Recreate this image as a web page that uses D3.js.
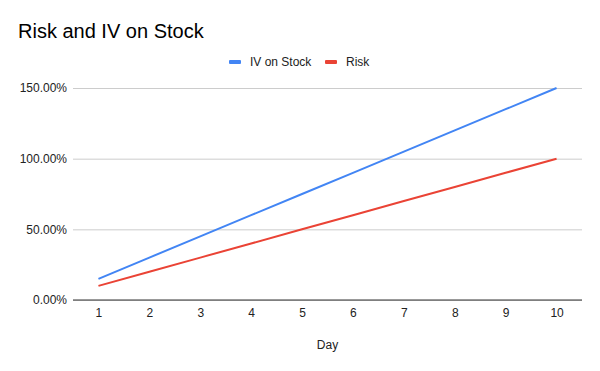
<!DOCTYPE html>
<html>
<head>
<meta charset="utf-8">
<script src="https://cdn.jsdelivr.net/npm/d3@7"></script>
<style>
  body { margin: 0; background: #fff; }
  text { font-family: Arial, "Liberation Sans", sans-serif; }
</style>
</head>
<body>
<svg width="600" height="371"></svg>
<script>
var days = [1, 2, 3, 4, 5, 6, 7, 8, 9, 10];
var ivOnStock = [15, 30, 45, 60, 75, 90, 105, 120, 135, 150];
var risk = [10, 20, 30, 40, 50, 60, 70, 80, 90, 100];
var yTicks = [0, 50, 100, 150];
var seriesNames = ["IV on Stock", "Risk"];
var seriesColors = ["#4285f4", "#ea4335"];

var svg = d3.select("svg");
var plotLeft = 73, plotRight = 582, plotTop = 88, plotBottom = 300;

var x = d3.scalePoint().domain(days).range([plotLeft, plotRight]).padding(0.5);
var y = d3.scaleLinear().domain([0, 150]).range([plotBottom, plotTop]);

// title
svg.append("text")
    .attr("x", 18).attr("y", 38)
    .attr("font-size", 20)
    .attr("fill", "#000")
    .text("Risk and IV on Stock");

// gridlines
svg.append("g")
    .attr("transform", "translate(" + plotLeft + ",0)")
    .call(d3.axisLeft(y).tickValues(yTicks).tickSize(-(plotRight - plotLeft)).tickFormat(function (d) { return d.toFixed(2) + "%"; }))
    .call(function (g) {
        g.select(".domain").remove();
        g.selectAll(".tick line").attr("stroke", "#cccccc");
        g.selectAll(".tick text").attr("x", -6).attr("font-size", 12).attr("fill", "#222")
            .style("font-family", "Arial, 'Liberation Sans', sans-serif");
    });

// x axis
svg.append("g")
    .attr("transform", "translate(0," + plotBottom + ")")
    .call(d3.axisBottom(x).tickSize(0).tickPadding(8))
    .call(function (g) {
        g.select(".domain").attr("stroke", "#333").attr("d", "M" + plotLeft + ",0H" + plotRight);
        g.selectAll(".tick text").attr("font-size", 12).attr("fill", "#222")
            .style("font-family", "Arial, 'Liberation Sans', sans-serif");
    });

svg.append("text")
    .attr("x", (plotLeft + plotRight) / 2).attr("y", 349)
    .attr("text-anchor", "middle")
    .attr("font-size", 12)
    .attr("fill", "#222")
    .text("Day");

// lines
var line = d3.line()
    .x(function (d, i) { return x(days[i]); })
    .y(function (d) { return y(d); });

[ivOnStock, risk].forEach(function (s, k) {
    svg.append("path")
        .datum(s)
        .attr("fill", "none")
        .attr("stroke", seriesColors[k])
        .attr("stroke-width", 2)
        .attr("d", line);
});

// legend
var legendX = [229, 325];
seriesNames.forEach(function (name, k) {
    var g = svg.append("g").attr("transform", "translate(" + legendX[k] + ",62)");
    g.append("rect").attr("x", 0).attr("y", -2).attr("width", 12).attr("height", 4)
        .attr("rx", 1).attr("fill", seriesColors[k]);
    g.append("text").attr("x", 21).attr("y", 4).attr("font-size", 12).attr("fill", "#222").text(name);
});
</script>
</body>
</html>
